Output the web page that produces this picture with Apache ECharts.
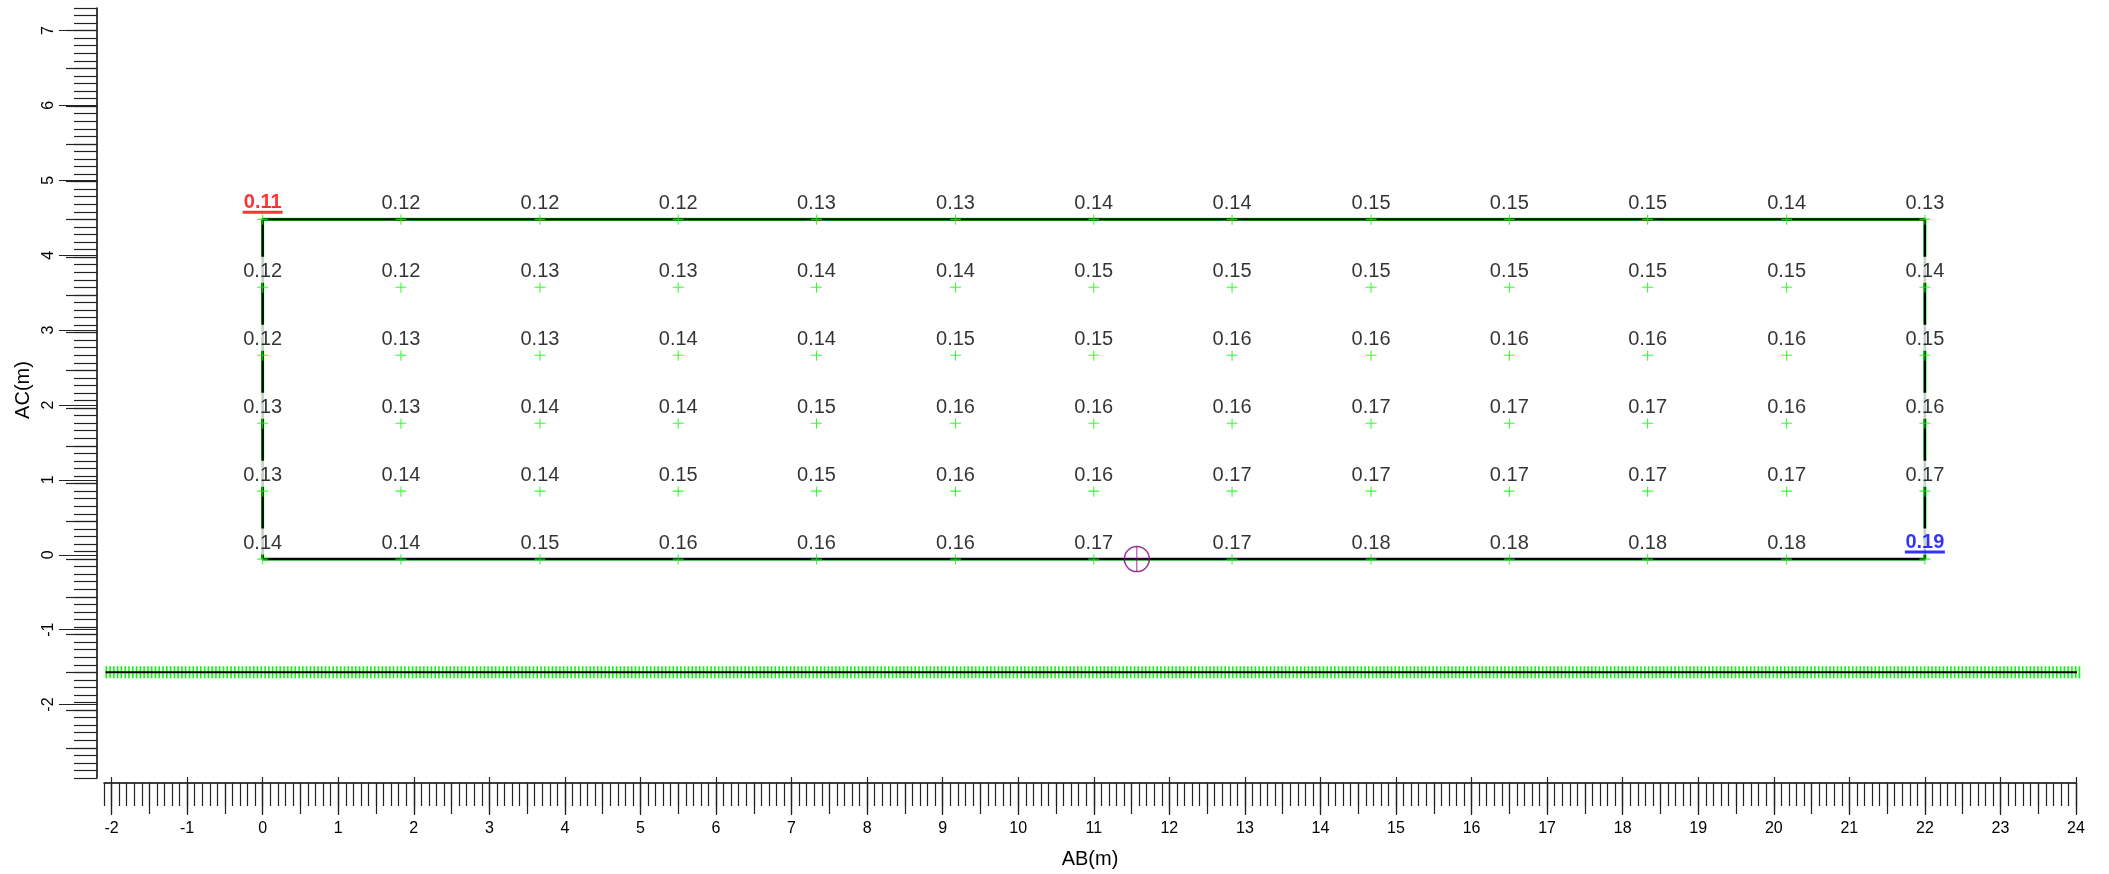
<!DOCTYPE html>
<html>
<head>
<meta charset="utf-8">
<script src="https://cdn.jsdelivr.net/npm/echarts@6/dist/echarts.min.js"></script>
<style>
  html, body { margin: 0; padding: 0; background: #fff; }
  #chart { width: 2109px; height: 874px; }
</style>
</head>
<body>
<div id="chart"></div>
<script>
// 测点网格：13 列 × 6 行，每个 + 上方标注数值；最小值红色、最大值蓝色加下划线
const colX = [0, 1.83, 3.67, 5.5, 7.33, 9.17, 11, 12.83, 14.67, 16.5, 18.33, 20.17, 22];
const rowY = [4.5, 3.6, 2.7, 1.8, 0.9, 0];
const values = [
  [0.11, 0.12, 0.12, 0.12, 0.13, 0.13, 0.14, 0.14, 0.15, 0.15, 0.15, 0.14, 0.13],
  [0.12, 0.12, 0.13, 0.13, 0.14, 0.14, 0.15, 0.15, 0.15, 0.15, 0.15, 0.15, 0.14],
  [0.12, 0.13, 0.13, 0.14, 0.14, 0.15, 0.15, 0.16, 0.16, 0.16, 0.16, 0.16, 0.15],
  [0.13, 0.13, 0.14, 0.14, 0.15, 0.16, 0.16, 0.16, 0.17, 0.17, 0.17, 0.16, 0.16],
  [0.13, 0.14, 0.14, 0.15, 0.15, 0.16, 0.16, 0.17, 0.17, 0.17, 0.17, 0.17, 0.17],
  [0.14, 0.14, 0.15, 0.16, 0.16, 0.16, 0.17, 0.17, 0.18, 0.18, 0.18, 0.18, 0.19],
];
// 外框
const frameX = [0, 22, 22, 0, 0];
const frameY = [0, 0, 4.5, 4.5, 0];
// 下方测线（密集测点）
const profileX = [-2.08, 24.09];
const profileY = -1.5;
// 紫色定位标记
const marker = [11.57, 0];
// 刻度
const xTicks = [-2, -1, 0, 1, 2, 3, 4, 5, 6, 7, 8, 9, 10, 11, 12, 13, 14, 15, 16, 17, 18, 19, 20, 21, 22, 23, 24];
const yTicks = [-2, -1, 0, 1, 2, 3, 4, 5, 6, 7];
const xRange = [-2.1, 24];
const yRange = [-2.9, 7.3];

const FONT = '"Liberation Sans", Arial, sans-serif';
const GREEN = '#00ff00';
const CROSS = 'path://M4.5,0H5.5V4.5H10V5.5H5.5V10H4.5V5.5H0V4.5H4.5Z';
const THIN_CROSS = 'path://M9.6,0H10.4V9.6H20V10.4H10.4V20H9.6V10.4H0V9.6H9.6Z';

function steps(a, b, step) {
  const out = [];
  for (let i = Math.round(a / step); i <= Math.round(b / step); i++) out.push(+(i * step).toFixed(2));
  return out;
}

const tickStyle = { color: '#222', width: 1.2 };
const grid = { left: 104, right: 33, top: 8, bottom: 96 };

// 三层刻度：0.1 短、0.5 中、整数长
function xAxisLayer(i, ticks, len, withLabels) {
  return {
    type: 'value', gridIndex: i, position: 'bottom', offset: 5,
    min: xRange[0], max: xRange[1],
    axisLine: { show: i === 0, onZero: false, lineStyle: { color: '#000', width: 1.5 } },
    axisTick: { show: true, customValues: ticks, length: len, lineStyle: tickStyle },
    axisLabel: withLabels
      ? { show: true, customValues: xTicks, margin: 44, color: '#000', fontSize: 16, fontFamily: FONT }
      : { show: false },
    splitLine: { show: false },
    name: withLabels ? 'AB(m)' : '', nameLocation: 'middle', nameGap: 72,
    nameTextStyle: { color: '#000', fontSize: 20, fontFamily: FONT },
  };
}
function yAxisLayer(i, ticks, len, withLabels) {
  return {
    type: 'value', gridIndex: i, position: 'left', offset: 7,
    min: yRange[0], max: yRange[1],
    axisLine: { show: i === 0, onZero: false, lineStyle: { color: '#000', width: 1.5 } },
    axisTick: { show: true, customValues: ticks, length: len, lineStyle: tickStyle },
    axisLabel: withLabels
      ? { show: true, customValues: yTicks, margin: 40, rotate: 90, color: '#000', fontSize: 16, fontFamily: FONT }
      : { show: false },
    splitLine: { show: false },
    name: withLabels ? 'AC(m)' : '', nameLocation: 'middle', nameGap: 62,
    nameTextStyle: { color: '#000', fontSize: 20, fontFamily: FONT },
  };
}

function extremeLabel(color) {
  return {
    padding: [5, 2, 1, 2],
    formatter: p => `{t|${p.value[2].toFixed(2)}}\n{u| }`,
    rich: {
      t: { fontWeight: 'bold', color, fontSize: 20, lineHeight: 17, fontFamily: FONT },
      u: { width: 40, height: 3, lineHeight: 3, fontSize: 1, backgroundColor: color },
    },
  };
}

const flat = values.flat();
const vMin = Math.min(...flat), vMax = Math.max(...flat);
const points = [];
rowY.forEach((y, r) => colX.forEach((x, c) => {
  const v = values[r][c];
  const item = { value: [x, y, v] };
  if (v === vMin) item.label = extremeLabel('#ff0000');
  else if (v === vMax) item.label = extremeLabel('#0000ff');
  points.push(item);
}));

const chart = echarts.init(document.getElementById('chart'));
chart.setOption({
  animation: false,
  backgroundColor: '#fff',
  textStyle: { fontFamily: FONT },
  grid: [grid, grid, grid],
  xAxis: [
    xAxisLayer(0, steps(xRange[0], xRange[1], 0.1), 23, false),
    xAxisLayer(1, steps(-2, 24, 0.5), 31, false),
    xAxisLayer(2, xTicks, 38, true),
  ],
  yAxis: [
    yAxisLayer(0, steps(yRange[0], yRange[1], 0.1), 23, false),
    yAxisLayer(1, steps(-2.5, 7, 0.5), 31, false),
    yAxisLayer(2, yTicks, 38, true),
  ],
  series: [
    {
      type: 'line', z: 1, symbol: 'none', silent: true,
      data: profileX.map(x => [x, profileY]),
      lineStyle: { color: GREEN, width: 12, type: [1.6, 2.18] },
    },
    {
      type: 'line', z: 2, symbol: 'none', silent: true,
      data: profileX.map(x => [x, profileY]),
      lineStyle: { color: '#000', width: 2 },
    },
    {
      type: 'line', z: 2, symbol: 'none', silent: true,
      data: frameX.map((x, i) => [x, frameY[i]]),
      lineStyle: { color: GREEN, width: 3 },
    },
    {
      type: 'line', z: 3, symbol: 'none', silent: true,
      data: frameX.map((x, i) => [x, frameY[i]]),
      lineStyle: { color: '#000', width: 2.4 },
    },
    {
      type: 'scatter', z: 5, silent: true,
      symbol: CROSS, symbolSize: 11,
      itemStyle: { color: GREEN },
      data: points,
      label: {
        show: true, position: 'top', distance: -1,
        backgroundColor: '#fff', padding: [5, 2, 1, 2],
        color: '#000', fontSize: 20, lineHeight: 20, fontFamily: FONT,
        formatter: p => p.value[2].toFixed(2),
      },
    },
    {
      type: 'scatter', z: 6, silent: true,
      symbol: 'circle', symbolSize: 25,
      itemStyle: { color: 'rgba(0,0,0,0)', borderColor: '#800080', borderWidth: 1.5 },
      data: [marker],
    },
    {
      type: 'scatter', z: 6, silent: true,
      symbol: THIN_CROSS, symbolSize: 25,
      itemStyle: { color: '#800080' },
      data: [marker],
    },
  ],
});
</script>
</body>
</html>
